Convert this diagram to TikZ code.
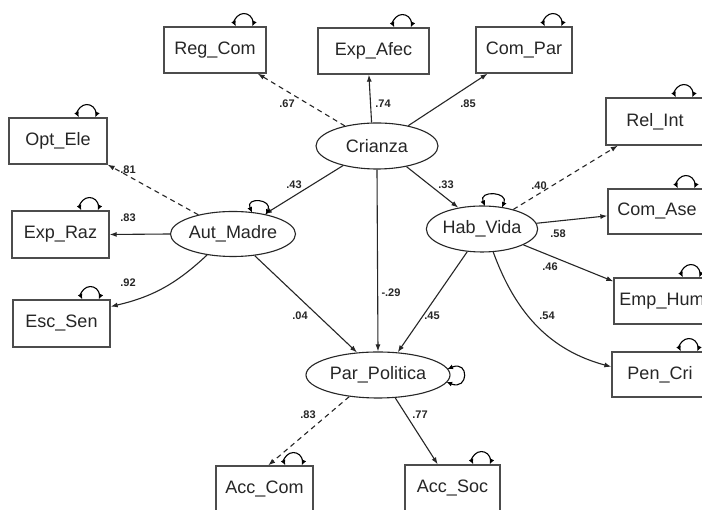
\documentclass[tikz,border=0pt]{standalone}
\usepackage{fontspec}
\setmainfont{Liberation Sans}
\usetikzlibrary{shapes.geometric,arrows.meta,calc}
\begin{document}
\begin{tikzpicture}[x=1pt,y=1pt,
  obs/.style={draw=black!70,line width=1.3pt,rectangle,inner sep=0pt,font=\fontsize{18}{20}\selectfont,text=black!85},
  lat/.style={draw=black!85,line width=1.1pt,ellipse,inner sep=0pt,font=\fontsize{18}{20}\selectfont,text=black!85},
  path/.style={draw=black!85,line width=1.1pt,-{Latex[length=7pt,width=5pt]}},
  dpath/.style={path,dash pattern=on 5pt off 4pt},
  coef/.style={font=\bfseries\fontsize{11}{12}\selectfont,text=black!85,inner sep=0pt},
  loopst/.style={draw=black,line width=1.1pt,{Latex[length=5.5pt,width=5pt]}-{Latex[length=5.5pt,width=5pt]}}
]
\fill[white] (0,0) rectangle (702,510);
\useasboundingbox (0,0) rectangle (702,510);
\clip (0,0) rectangle (702,510);

% observed
\node[obs,minimum width=102pt,minimum height=46pt] (RegCom) at (215,460) {Reg\_Com};
\node[obs,minimum width=111pt,minimum height=46pt] (ExpAfec) at (373.5,459) {Exp\_Afec};
\node[obs,minimum width=96pt,minimum height=46pt] (ComPar) at (524,460) {Com\_Par};
\node[obs,minimum width=98pt,minimum height=46pt] (OptEle) at (58,369) {Opt\_Ele};
\node[obs,minimum width=97pt,minimum height=47pt] (ExpRaz) at (60.5,275.5) {Exp\_Raz};
\node[obs,minimum width=97pt,minimum height=47pt] (EscSen) at (61.5,186.5) {Esc\_Sen};
\node[obs,minimum width=98pt,minimum height=47pt] (RelInt) at (655,388.5) {Rel\_Int};
\node[obs,minimum width=98pt,minimum height=45pt] (ComAse) at (657,298.5) {Com\_Ase};
\node[obs,minimum width=96pt,minimum height=46pt] (EmpHum) at (662,209) {Emp\_Hum};
\node[obs,minimum width=96pt,minimum height=45pt] (PenCri) at (660,135.5) {Pen\_Cri};
\node[obs,minimum width=97pt,minimum height=46pt] (AccCom) at (264.5,21) {Acc\_Com};
\node[obs,minimum width=95pt,minimum height=46pt] (AccSoc) at (452.5,22) {Acc\_Soc};

% latent
\node[lat,minimum width=122pt,minimum height=46pt] (Crianza) at (377,364) {Crianza};
\node[lat,minimum width=125pt,minimum height=45pt] (AutMadre) at (233,276) {Aut\_Madre};
\node[lat,minimum width=110pt,minimum height=46pt] (HabVida) at (482,281) {Hab\_Vida};
\node[lat,minimum width=144pt,minimum height=46pt] (ParPol) at (378,135) {Par\_Politica};

% paths
\draw[dpath] (Crianza.148.4) -- (RegCom.-29.3);
\draw[path] (Crianza.103) -- (ExpAfec.-101.1);
\draw[path] (Crianza.33.3) -- (ComPar.-147);
\draw[path] (Crianza.-150.3) -- (AutMadre.32.9);
\draw[path] (Crianza.south) -- (ParPol.north);
\draw[path] (Crianza.-35.9) -- (HabVida.138.7);

\draw[dpath] (AutMadre.151.8) -- (OptEle.south east);
\draw[path] (AutMadre.west) -- (ExpRaz.east);
\draw[path] (AutMadre.-141.8) to[bend left=15] (EscSen.19.8);
\draw[path] (AutMadre.-45) -- (ParPol.133.7);

\draw[dpath] (HabVida.32.5) -- (RelInt.-147.5);
\draw[path] (HabVida.6.1) -- (ComAse.-175);
\draw[path] (HabVida.-21.3) -- (EmpHum.158.8);
\draw[path] (HabVida.-64.4) to[out=-70,in=165] (PenCri.171.3);
\draw[path] (HabVida.-123) -- (ParPol.49.2);

\draw[dpath] (ParPol.-143.7) -- (AccCom.81.3);
\draw[path] (ParPol.-53.5) -- (AccSoc.122.2);

% coefficients
\node[coef] at (287,406) {.67};
\node[coef] at (383,406) {.74};
\node[coef] at (468,406) {.85};
\node[coef] at (294,325) {.43};
\node[coef] at (446,325) {.33};
\node[coef] at (539,324) {.40};
\node[coef] at (128,340) {.81};
\node[coef] at (128,292) {.83};
\node[coef] at (128,227) {.92};
\node[coef] at (300,194) {.04};
\node[coef] at (391,217) {-.29};
\node[coef] at (432,194) {.45};
\node[coef] at (547,194) {.54};
\node[coef] at (558,276) {.58};
\node[coef] at (550,243) {.46};
\node[coef] at (308,95) {.83};
\node[coef] at (420,95) {.77};

% loops on observed boxes
\foreach \b in {RegCom,ExpAfec,ComPar,OptEle,ExpRaz,EscSen,RelInt,ComAse,EmpHum,PenCri,AccCom,AccSoc}{
  \draw[loopst] ($(\b.north)+(20.8,0)$) arc[start angle=205,end angle=-25,radius=9];
}
% loops on latent variables
\draw[loopst] ($(AutMadre.center)+(19,21.4)$) .. controls +(-7,16) and +(7,16) .. ($(AutMadre.center)+(33,19.1)$);
\draw[loopst] ($(HabVida.center)+(3,23)$) .. controls +(-7,16) and +(7,16) .. ($(HabVida.center)+(20,21.4)$);
\draw[loopst] ($(ParPol.center)+(69.5,6)$) .. controls +(22,9) and +(22,-9) .. ($(ParPol.center)+(68.6,-7)$);
\end{tikzpicture}
\end{document}
